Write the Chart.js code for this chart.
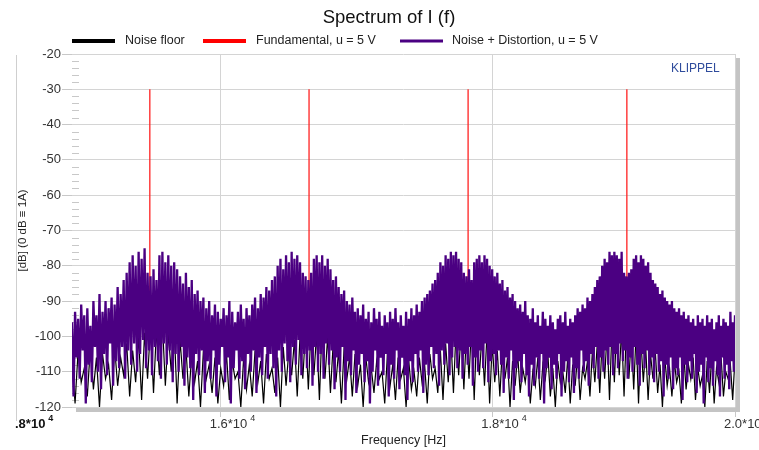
<!DOCTYPE html>
<html>
<head>
<meta charset="utf-8">
<script src="https://cdn.jsdelivr.net/npm/chart.js@4/dist/chart.umd.min.js"></script>
<style>
  html,body{margin:0;padding:0;background:#fff;}
  #wrap{width:759px;height:450px;position:relative;}
</style>
</head>
<body>
<div id="wrap"><canvas id="c" width="759" height="450"></canvas></div>
<script>
// ---------------- data ----------------
const chartTitle = 'Spectrum of I (f)';
const seriesNames = ['Noise floor', 'Fundamental, u = 5 V', 'Noise + Distortion, u = 5 V'];

// frequency bins (Hz): uniform FFT-like grids
const distStartHz = 15000, distStepHz = 10;
const noiseStartHz = 15000, noiseStepHz = 20;

// Noise + Distortion, u = 5 V  [dB]
const distortionDb = [
 -96,-117,-93,-106,-95,-112,-91,-104,-94,-119,
 -92,-108,-97,-113,-90,-103,-94,-110,-88,-115,
 -93,-105,-90,-111,-92,-102,-89,-114,-91,-107,
 -86,-109,-88,-103,-84,-112,-82,-104,-79,-108,
 -77,-102,-80,-110,-76,-105,-78,-101,-75,-109,
 -82,-104,-83,-111,-81,-103,-84,-107,-77,-112,
 -76,-102,-79,-108,-77,-104,-80,-113,-79,-105,
 -81,-110,-83,-103,-85,-114,-82,-106,-86,-109,
 -84,-118,-88,-105,-87,-111,-90,-104,-89,-116,
 -92,-107,-90,-112,-94,-104,-91,-117,-93,-108,
 -95,-103,-92,-113,-94,-106,-90,-119,-93,-109,
 -96,-104,-93,-112,-91,-107,-95,-115,-92,-105,
 -94,-110,-91,-104,-89,-116,-92,-106,-88,-111,
 -89,-103,-86,-112,-87,-105,-84,-109,-83,-117,
 -80,-104,-78,-110,-81,-102,-77,-107,-79,-113,
 -76,-103,-78,-108,-77,-101,-79,-111,-82,-105,
 -83,-109,-84,-104,-82,-114,-78,-103,-77,-110,
 -79,-105,-77,-112,-80,-102,-78,-108,-81,-104,
 -84,-115,-83,-106,-86,-110,-88,-103,-87,-118,
 -90,-107,-91,-111,-89,-104,-93,-116,-92,-108,
 -94,-105,-91,-113,-95,-107,-93,-119,-96,-110,
 -92,-104,-95,-114,-93,-106,-97,-111,-94,-105,
 -96,-117,-93,-108,-95,-112,-92,-104,-96,-115,
 -94,-106,-97,-111,-93,-118,-95,-107,-92,-113,
 -94,-105,-91,-110,-93,-104,-90,-116,-89,-108,
 -88,-111,-87,-103,-85,-109,-84,-105,-82,-114,
 -79,-104,-80,-108,-77,-102,-78,-111,-76,-106,
 -77,-103,-76,-109,-78,-104,-79,-112,-82,-105,
 -83,-108,-81,-103,-84,-114,-79,-106,-78,-110,
 -77,-104,-79,-109,-77,-102,-78,-113,-80,-107,
 -81,-105,-83,-111,-82,-104,-85,-108,-84,-116,
 -87,-106,-86,-112,-89,-104,-88,-118,-90,-109,
 -92,-107,-91,-113,-93,-105,-90,-111,-94,-117,
 -95,-108,-92,-114,-96,-106,-94,-112,-97,-105,
 -93,-119,-95,-109,-97,-106,-94,-115,-96,-108,
 -98,-112,-95,-105,-94,-117,-96,-110,-93,-107,
 -97,-113,-95,-106,-96,-116,-94,-109,-92,-112,
 -93,-104,-91,-110,-92,-107,-89,-114,-90,-105,
 -88,-109,-86,-103,-84,-112,-83,-106,-80,-110,
 -78,-104,-79,-108,-76,-103,-77,-111,-76,-105,
 -77,-109,-78,-102,-76,-107,-82,-104,-83,-112,
 -82,-106,-81,-110,-78,-103,-77,-108,-79,-114,
 -77,-105,-78,-109,-80,-104,-79,-111,-82,-106,
 -84,-113,-85,-105,-86,-110,-88,-107,-87,-117,
 -89,-108,-90,-112,-91,-106,-90,-115,-92,-109,
 -93,-111,-92,-106,-94,-118,-93,-108,-95,-113,
 -94,-107,-96,-112,-95,-105,-97,-116,-94,-110,
 -96,-108,-95,-119,-97,-106,-94,-113,-96,-109,
 -95,-114,-98,-107,-96,-111,-94,-117,-97,-106,
 -95,-112,-96,-108,-97,-115,-93,-107,-96,-110,
 -94
];

// Noise floor [dB]
const noiseFloorDb = [
 -107,-119,-104,-113,-109,-117,-103,-115,-106,-120,
 -105,-112,-108,-118,-103,-114,-106,-111,-102,-117,
 -104,-113,-100,-118,-99,-112,-97,-116,-98,-111,
 -96,-114,-99,-110,-97,-119,-101,-112,-103,-117,
 -105,-113,-107,-120,-104,-112,-108,-116,-106,-119,
 -109,-114,-105,-118,-107,-112,-110,-120,-106,-115,
 -108,-117,-104,-113,-107,-119,-105,-112,-109,-116,
 -106,-120,-103,-114,-104,-111,-101,-117,-100,-112,
 -98,-115,-97,-111,-99,-118,-96,-112,-100,-116,
 -102,-113,-104,-119,-103,-112,-106,-117,-105,-114,
 -108,-120,-106,-113,-109,-116,-107,-112,-110,-119,
 -105,-114,-108,-118,-106,-112,-109,-120,-107,-115,
 -110,-117,-106,-113,-108,-119,-105,-112,-109,-116,
 -104,-118,-102,-113,-100,-116,-98,-111,-97,-115,
 -99,-112,-96,-118,-98,-111,-100,-114,-99,-119,
 -102,-113,-104,-117,-103,-112,-106,-120,-107,-114,
 -105,-116,-109,-113,-107,-119,-110,-114,-106,-118,
 -108,-112,-105,-117,-109,-120,-107,-113,-110,-116,
 -106,-119,-108,-114,-105,-118,-109,-112,-107,-117,
 -104,-113,-102,-116,-101,-112,-99,-118,-98,-113,
 -96,-111,-98,-117,-97,-112,-100,-115,-99,-119,
 -101,-113,-103,-118,-105,-112,-104,-116,-108,-120,
 -106,-114,-109,-117,-107,-113,-110,-119,-105,-115,
 -108,-112,-106,-118,-109,-114,-111,-120,-107,-116,
 -105,-119,-109,-113,-106,-117,-110,-112,-108,-118,
 -106
];

// Fundamental, u = 5 V : spectral lines
const fundFreqHz = [15515, 16625, 17813, 19083];
const fundLevelDb = [-30, -30, -30, -30];
const fundBaseDb  = [-101, -100, -102, -101];

// axes
const yTickValues = [-120,-110,-100,-90,-80,-70,-60,-50,-40,-30,-20];
const xTickValues = [16000, 18000, 20000];
const xTickMantissa = ['1.6*10', '1.8*10', '2.0*10'];
const xTickExponent = ['4', '4', '4'];
const xMinHz = 15000, xMaxHz = 20000;
const yMinDb = -120, yMaxDb = -20;
const yTitle = '[dB] (0 dB \u2261 1A)';
const xTitle = 'Frequency [Hz]';
const brand = 'KLIPPEL';

// ---------------- build chart ----------------
const FONT = '"Liberation Sans", Arial, Helvetica, sans-serif';
const COLORS = ['#000000', '#ff0000', '#4b0082'];

const distData = distortionDb.map((v, i) => ({x: distStartHz + distStepHz * i, y: v}));
const noiseData = noiseFloorDb.map((v, i) => ({x: noiseStartHz + noiseStepHz * i, y: v}));
const fundData = fundFreqHz.flatMap((f, k) => [
  {x: f, y: fundBaseDb[k]}, {x: f, y: fundLevelDb[k]}, {x: f, y: null}
]);

const deco = {
  id: 'deco',
  beforeDatasetsDraw(chart) {
    const {ctx, chartArea: a, scales: {y}} = chart;
    ctx.save();
    ctx.strokeStyle = '#c8c8c8';
    ctx.lineWidth = 1;
    for (let v = yMinDb + 2; v < yMaxDb; v += 2) {
      if (v % 10 === 0) continue;
      const py = Math.round(y.getPixelForValue(v)) + 0.5;
      ctx.beginPath(); ctx.moveTo(a.left, py); ctx.lineTo(a.left + 7, py); ctx.stroke();
    }
    ctx.restore();
  },
  afterDraw(chart) {
    const {ctx, chartArea: a, scales: {x}} = chart;
    ctx.save();
    // frame shadow
    ctx.fillStyle = '#c4c4c4';
    ctx.fillRect(a.right + 1, a.top + 4, 4, a.bottom - a.top + 1);
    ctx.fillRect(a.left + 4, a.bottom + 1, a.right - a.left + 1, 4);
    // thin left rule
    ctx.fillStyle = '#cfcfcf';
    ctx.fillRect(16, 55, 1, 366);

    // title
    ctx.fillStyle = '#111';
    ctx.font = '18.5px ' + FONT;
    ctx.textAlign = 'center'; ctx.textBaseline = 'middle';
    ctx.fillText(chartTitle, 389, 18);

    // legend
    const legendX = [[72, 125], [203, 256], [400, 452]];
    const legendW = [4, 4, 3];
    ctx.textAlign = 'left';
    ctx.font = '12.5px ' + FONT;
    seriesNames.forEach((n, i) => {
      const [lx, tx] = legendX[i];
      ctx.fillStyle = COLORS[i];
      ctx.fillRect(lx, 41 - legendW[i] / 2, 43, legendW[i]);
      ctx.fillStyle = '#222';
      ctx.fillText(n, tx, 41);
    });

    // brand
    ctx.fillStyle = '#2f4c9c';
    ctx.font = '12px ' + FONT;
    ctx.fillText(brand, 671, 69);

    // x tick labels with exponent
    ctx.fillStyle = '#333';
    xTickValues.forEach((v, i) => {
      const px = x.getPixelForValue(v);
      ctx.font = '13px ' + FONT;
      ctx.textBaseline = 'middle';
      ctx.fillText(xTickMantissa[i], px - 11, 424);
      const w = ctx.measureText(xTickMantissa[i]).width;
      ctx.font = '9px ' + FONT;
      ctx.fillText(xTickExponent[i], px - 11 + w + 3, 419);
    });
    // overlapped label at the left edge
    ctx.fillStyle = '#111';
    ctx.font = 'bold 13px ' + FONT;
    ctx.fillText('.8*10', 15, 424);
    const w0 = ctx.measureText('.8*10').width;
    ctx.font = 'bold 9px ' + FONT;
    ctx.fillText('4', 15 + w0 + 3, 419);
    ctx.restore();
  }
};

new Chart(document.getElementById('c'), {
  type: 'line',
  data: {
    datasets: [
      {label: seriesNames[0], data: noiseData, borderColor: COLORS[0], backgroundColor: COLORS[0],
       borderWidth: 1.2, pointRadius: 0, order: 1},
      {label: seriesNames[1], data: fundData, borderColor: 'rgba(255,30,30,0.85)', backgroundColor: COLORS[1],
       borderWidth: 1.5, pointRadius: 0, spanGaps: false, order: 2},
      {label: seriesNames[2], data: distData, borderColor: COLORS[2], backgroundColor: COLORS[2],
       borderWidth: 2.3, pointRadius: 0, order: 0}
    ]
  },
  options: {
    responsive: false,
    animation: false,
    devicePixelRatio: 1,
    layout: {padding: {top: 54, right: 24, bottom: 0, left: 0}},
    plugins: {legend: {display: false}, title: {display: false}, tooltip: {enabled: false}},
    elements: {line: {tension: 0}},
    scales: {
      x: {
        type: 'logarithmic', min: xMinHz, max: xMaxHz,
        afterBuildTicks: s => { s.ticks = xTickValues.map(v => ({value: v})); },
        ticks: {display: false},
        grid: {color: '#d4d4d4', lineWidth: 1, drawTicks: true, tickLength: 10, tickColor: '#c8c8c8'},
        border: {display: false},
        title: {display: true, text: xTitle, color: '#222', font: {family: FONT, size: 12.5}, padding: {top: 0, bottom: 2}},
        afterFit: s => { s.height = 43; }
      },
      y: {
        min: yMinDb, max: yMaxDb,
        afterBuildTicks: s => { s.ticks = yTickValues.map(v => ({value: v})); },
        ticks: {color: '#333', font: {family: FONT, size: 13}, padding: 1},
        grid: {color: '#d4d4d4', lineWidth: 1, tickLength: 10, tickColor: '#c8c8c8'},
        border: {display: false},
        title: {display: true, text: yTitle, color: '#222', font: {family: FONT, size: 11.5}, padding: {top: 16, bottom: 0}},
        afterFit: s => { s.width = 72; }
      }
    }
  },
  plugins: [deco]
});
</script>
</body>
</html>
